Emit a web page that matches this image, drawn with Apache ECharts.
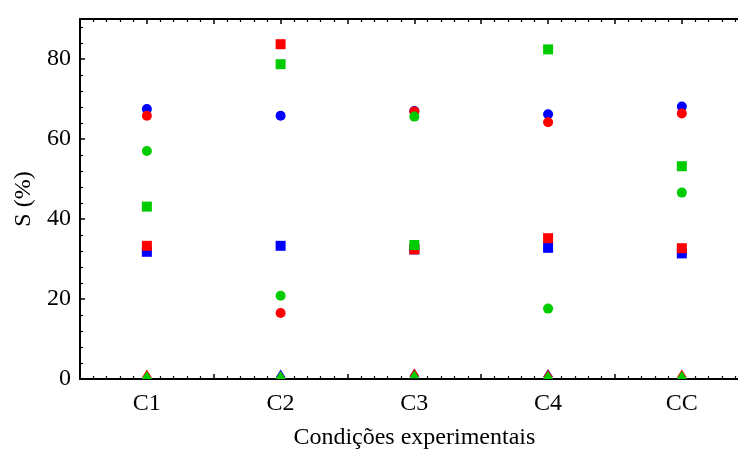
<!DOCTYPE html>
<html>
<head>
<meta charset="utf-8">
<script src="https://cdn.jsdelivr.net/npm/echarts@6/dist/echarts.min.js"></script>
<style>html,body{margin:0;padding:0;background:#fff}#c{width:738px;height:451px}</style>
</head>
<body>
<div id="c"></div>
<script>
const categories = ['C1', 'C2', 'C3', 'C4', 'CC'];
const yTicks = [0, 20, 40, 60, 80];
// circles
const blueCircle  = [67.5, 65.8, 67.0, 66.2, 68.1];
const redCircle   = [65.8, 16.5, 66.9, 64.2, 66.4];
const greenCircle = [57.0, 20.8, 65.6, 17.6, 46.6];
// squares
const blueSquare  = [31.8, 33.3, 32.4, 32.8, 31.4];
const redSquare   = [33.3, 83.7, 32.4, 35.2, 32.7];
const greenSquare = [43.1, 78.7, 33.5, 82.4, 53.2];
// triangles
const blueTri  = [1.0, 1.4, 1.6, 1.5, 1.0];
const redTri   = [1.4, 1.0, 1.6, 1.4, 1.4];
const greenTri = [1.0, 1.0, 1.2, 1.0, 1.0];

const BLUE = '#0000ff', RED = '#ff0000', GREEN = '#00cc00';
const FONT = 'Liberation Serif';

function pts(arr) { return arr.map((v, i) => [i + 1, v]); }
function ser(name, arr, color, symbol, size) {
  return { name, type: 'scatter', data: pts(arr), symbol, symbolSize: size,
    itemStyle: { color, opacity: 1 }, xAxisIndex: 0, yAxisIndex: 0, silent: true, animation: false };
}

const axisCommon = {
  axisLine: { show: true, onZero: false, lineStyle: { color: '#000', width: 2 } },
  axisTick: { show: true, inside: true, length: 5, lineStyle: { color: '#000', width: 1.5 } },
  minorTick: { show: true, splitNumber: 5, length: 3, lineStyle: { color: '#000', width: 1.2 } },
  splitLine: { show: false }
};

const chart = echarts.init(document.getElementById('c'), null, { renderer: 'canvas' });
chart.setOption({
  animation: false,
  backgroundColor: '#fff',
  grid: { left: 80, top: 19, width: 668.7, height: 360, containLabel: false, outerBoundsMode: 'none' },
  xAxis: [
    Object.assign({}, axisCommon, {
      type: 'value', min: 0.5, max: 5.5, interval: 0.5, position: 'bottom',
      axisLabel: { color: '#000', fontFamily: FONT, fontSize: 24, margin: 13,
        formatter: v => (Math.abs(v - Math.round(v)) < 1e-6 && categories[Math.round(v) - 1]) ? categories[Math.round(v) - 1] : '' },
      name: 'Condições experimentais', nameLocation: 'middle', nameGap: 47,
      nameTextStyle: { color: '#000', fontFamily: FONT, fontSize: 24 }
    }),
    Object.assign({}, axisCommon, {
      type: 'value', min: 0.5, max: 5.5, interval: 0.5, position: 'top',
      axisLabel: { show: false }
    })
  ],
  yAxis: [
    Object.assign({}, axisCommon, {
      type: 'value', min: 0, max: 90, interval: 20, position: 'left',
      axisLabel: { color: '#000', fontFamily: FONT, fontSize: 24, margin: 9, showMaxLabel: false,
        formatter: v => yTicks.indexOf(v) >= 0 ? String(v) : '' },
      name: 'S (%)', nameLocation: 'middle', nameGap: 43, nameRotate: 90,
      nameTextStyle: { color: '#000', fontFamily: FONT, fontSize: 24 }
    }),
    Object.assign({}, axisCommon, {
      type: 'value', min: 0, max: 90, interval: 20, position: 'right',
      axisLabel: { show: false }
    })
  ],
  series: [
    ser('blueCircle', blueCircle, BLUE, 'circle', 10),
    ser('blueSquare', blueSquare, BLUE, 'rect', 10),
    ser('blueTri', blueTri, BLUE, 'triangle', [10, 8]),
    ser('redCircle', redCircle, RED, 'circle', 10),
    ser('redSquare', redSquare, RED, 'rect', 10),
    ser('redTri', redTri, RED, 'triangle', [10, 8]),
    ser('greenCircle', greenCircle, GREEN, 'circle', 10),
    ser('greenSquare', greenSquare, GREEN, 'rect', 10),
    ser('greenTri', greenTri, GREEN, 'triangle', [10, 8])
  ]
});
</script>
</body>
</html>
